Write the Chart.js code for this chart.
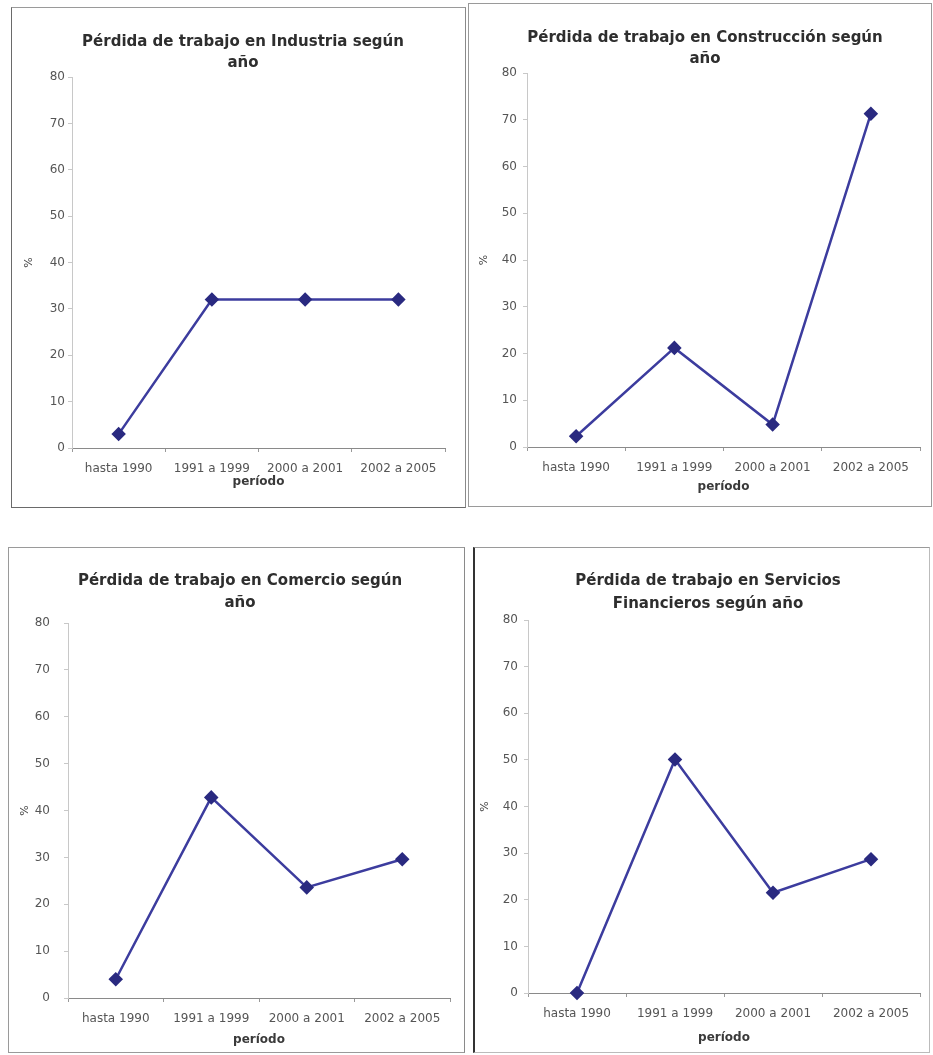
<!DOCTYPE html>
<html>
<head>
<meta charset="utf-8">
<script src="https://cdn.jsdelivr.net/npm/chart.js@4.4.1/dist/chart.umd.min.js"></script>
<style>
  body { margin: 0; background: #fff; }
  .panel { position: absolute; box-sizing: border-box; }
  .panel canvas { position: absolute; left: 0; top: 0; }
</style>
</head>
<body>
<div id="p1" class="panel"><canvas id="c1"></canvas></div>
<div id="p2" class="panel"><canvas id="c2"></canvas></div>
<div id="p3" class="panel"><canvas id="c3"></canvas></div>
<div id="p4" class="panel"><canvas id="c4"></canvas></div>
<script>
// data (percent)
const periodos = ['hasta 1990', '1991 a 1999', '2000 a 2001', '2002 a 2005'];
const industria = [3.0, 32.0, 32.0, 32.0];
const construccion = [2.3, 21.2, 4.8, 71.3];
const comercio = [4.0, 42.8, 23.6, 29.6];
const financieros = [0.0, 50.1, 21.5, 28.7];
const yMin = 0;
const yMax = 80;
const yStep = 10;

const tituloX = 'período';
const tituloY = '%';

// layout of each panel: box = [x, y, w, h], area = [left, top, right, bottom]
const panels = [
  { id: 'c1', wrap: 'p1', values: industria,
    title: ['Pérdida de trabajo en Industria según', 'año'],
    box: [11, 7, 455, 501], area: [61, 70, 434, 441],
    titleX: 232, titleY: [39, 60], tickPad: 3, xTitleDy: 34,
    border: ['1px solid #9a9a9a', '1px solid #8a8a8a', '1px solid #6a6a6a', '1px solid #6a6a6a'] },
  { id: 'c2', wrap: 'p2', values: construccion,
    title: ['Pérdida de trabajo en Construcción según', 'año'],
    box: [468, 3, 464, 504], area: [59, 70, 452, 444],
    titleX: 237, titleY: [39, 60], tickPad: 6, xTitleDy: 40,
    border: ['1px solid #9a9a9a', '1px solid #9a9a9a', '1px solid #9a9a9a', '1px solid #9a9a9a'] },
  { id: 'c3', wrap: 'p3', values: comercio,
    title: ['Pérdida de trabajo en Comercio según', 'año'],
    box: [8, 547, 457, 506], area: [60, 76, 442, 451],
    titleX: 232, titleY: [38, 60], tickPad: 14, xTitleDy: 42,
    border: ['1px solid #9a9a9a', '1px solid #8a8a8a', '1px solid #9a9a9a', '1px solid #9a9a9a'] },
  { id: 'c4', wrap: 'p4', values: financieros,
    title: ['Pérdida de trabajo en Servicios', 'Financieros según año'],
    box: [473, 547, 457, 506], area: [55, 73, 447, 446],
    titleX: 235, titleY: [38, 61], tickPad: 6, xTitleDy: 45,
    border: ['1px solid #9a9a9a', '1px solid #bbb', '1px solid #bbb', '2px solid #333'] }
];

const textPlugin = {
  id: 'panelText',
  afterDraw(chart, args, opts) {
    const ctx = chart.ctx;
    const area = chart.chartArea;
    ctx.save();
    ctx.fillStyle = '#2e2e2e';
    ctx.textAlign = 'center';
    ctx.textBaseline = 'alphabetic';
    ctx.font = 'bold 15px "DejaVu Sans"';
    opts.title.forEach((line, i) => ctx.fillText(line, opts.titleX, opts.titleY[i]));

    // x axis title
    ctx.fillStyle = '#3a3a3a';
    ctx.font = 'bold 12px "DejaVu Sans"';
    ctx.textBaseline = 'middle';
    ctx.fillText(tituloX, (area.left + area.right) / 2, area.bottom + opts.xTitleDy);

    // y axis title, rotated
    ctx.fillStyle = '#444';
    ctx.font = '11px "DejaVu Sans"';
    ctx.translate(area.left - 43, chart.scales.y.getPixelForValue(40));
    ctx.rotate(-Math.PI / 2);
    ctx.fillText(tituloY, 0, 0);
    ctx.restore();
  }
};

panels.forEach(p => {
  const wrap = document.getElementById(p.wrap);
  const [bx, by, bw, bh] = p.box;
  const [al, at, ar, ab] = p.area;
  wrap.style.left = bx + 'px';
  wrap.style.top = by + 'px';
  wrap.style.width = bw + 'px';
  wrap.style.height = bh + 'px';

  // border drawn above the canvas with an overlay
  const edge = document.createElement('div');
  edge.style.cssText = 'position:absolute;left:0;top:0;right:0;bottom:0;box-sizing:border-box;pointer-events:none;';
  edge.style.borderTop = p.border[0];
  edge.style.borderRight = p.border[1];
  edge.style.borderBottom = p.border[2];
  edge.style.borderLeft = p.border[3];

  const canvas = document.getElementById(p.id);
  canvas.width = bw;
  canvas.height = bh;
  wrap.appendChild(edge);
  const xAxisHeight = 30;

  new Chart(canvas.getContext('2d'), {
    type: 'line',
    data: {
      labels: periodos,
      datasets: [{
        data: p.values,
        borderColor: '#3c3c9e',
        borderWidth: 2.5,
        backgroundColor: '#2a2a80',
        pointBackgroundColor: '#2a2a80',
        pointBorderColor: '#2a2a80',
        pointStyle: 'rectRot',
        pointRadius: 5.5,
        tension: 0,
        clip: false
      }]
    },
    options: {
      responsive: false,
      animation: false,
      events: [],
      layout: {
        padding: { left: 0, top: at, right: bw - ar, bottom: bh - ab - xAxisHeight }
      },
      plugins: {
        legend: { display: false },
        title: { display: false },
        tooltip: { enabled: false },
        panelText: { title: p.title, titleX: p.titleX, titleY: p.titleY, xTitleDy: p.xTitleDy }
      },
      scales: {
        x: {
          offset: true,
          grid: { display: true, offset: true, drawOnChartArea: false, tickLength: 4, color: '#999' },
          border: { color: '#8a8a8a', width: 1 },
          ticks: {
            autoSkip: false, maxRotation: 0, padding: 10,
            color: '#555', font: { family: 'DejaVu Sans', size: 12 }
          },
          afterFit(scale) { scale.height = xAxisHeight; }
        },
        y: {
          min: yMin,
          max: yMax,
          grid: { display: true, drawOnChartArea: false, tickLength: 4, color: '#c8c8c8' },
          border: { color: '#c8c8c8', width: 1 },
          ticks: {
            stepSize: yStep, padding: p.tickPad,
            color: '#555', font: { family: 'DejaVu Sans', size: 12 }
          },
          afterFit(scale) { scale.width = al; }
        }
      }
    },
    plugins: [textPlugin]
  });
});
</script>
</body>
</html>
